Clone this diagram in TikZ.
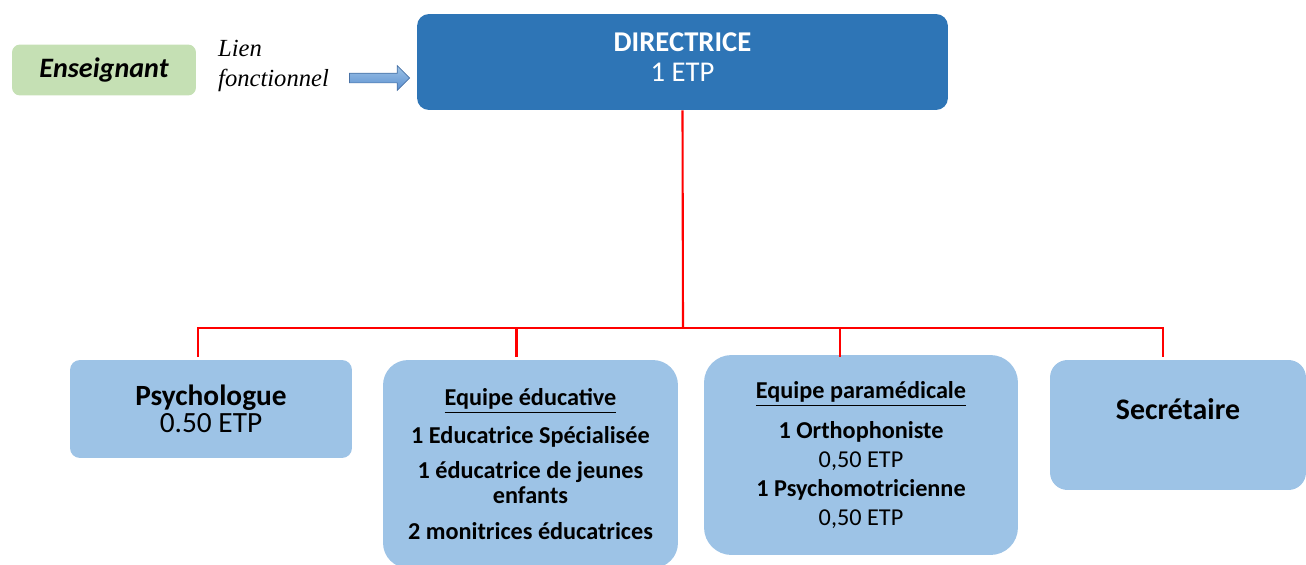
\documentclass[tikz,border=0pt]{standalone}
\usepackage{fontspec}
\setmainfont{Carlito}
\newfontfamily\lienfont{Liberation Serif}
\usepackage{tikz}
\usetikzlibrary{shapes.arrows, positioning, calc}
\definecolor{dirblue}{HTML}{2E75B6}
\definecolor{staffblue}{HTML}{9DC3E6}
\definecolor{teachgreen}{HTML}{C5E0B4}
\definecolor{arrowblue}{HTML}{5B8FD0}

\begin{document}
\begin{tikzpicture}[x=0.02cm, y=-0.02cm,
    director/.style={rectangle, rounded corners=0.24cm, fill=dirblue, text=white, minimum width=10.62cm, minimum height=1.92cm, align=center, font=\fontsize{16.3}{17}\selectfont},
    staff/.style={rectangle, rounded corners=0.2cm, fill=staffblue, align=center, font=\fontsize{13.8}{14.5}\selectfont},
    teacher/.style={rectangle, rounded corners=0.16cm, fill=teachgreen, minimum width=3.68cm, minimum height=1.02cm, font=\fontsize{16}{17}\selectfont\bfseries\itshape},
    link/.style={red, line width=1.2pt}
]
    \useasboundingbox (0,0) rectangle (1306,565);

    \node[teacher] (teach) at (104,70) {Enseignant};
    \node[align=left, anchor=west, font=\fontsize{14}{17}\selectfont\lienfont\itshape] (lientext) at (212,66) {Lien\\fonctionnel};
    \node[single arrow, draw=arrowblue!80!black, line width=0.4pt, top color=staffblue, bottom color=arrowblue, inner sep=0.09cm, minimum height=1.2cm, single arrow head extend=0.15cm, anchor=tip] (lienarrow) at (410,78) {};

    \node[director, text depth=0.2cm] (dir) at (682.5,62) {\textbf{DIRECTRICE}\\1 ETP};

    \node[staff, minimum width=5.64cm, minimum height=1.96cm, font=\fontsize{16.7}{15.5}\selectfont] (psy) at (211,409) {\textbf{Psychologue}\\0.50 ETP};
    \node[staff, rounded corners=0.5cm, minimum width=5.9cm, minimum height=4.16cm, font=\fontsize{13.8}{14.2}\selectfont\bfseries] (educ) at (530.5,464) {\underline{Equipe éducative}\\[7pt] 1 Educatrice Spécialisée\\[6pt] 1 éducatrice de jeunes\\ enfants\\[6pt] 2 monitrices éducatrices};
    \node[staff, rounded corners=0.55cm, minimum width=6.28cm, minimum height=4cm, font=\fontsize{13.8}{16.5}\selectfont] (para) at (861,455) {\textbf{\underline{Equipe paramédicale}}\\[6pt] \textbf{1 Orthophoniste}\\0,50 ETP\\ \textbf{1 Psychomotricienne}\\0,50 ETP};
    \node[staff, rounded corners=0.35cm, minimum width=5.12cm, minimum height=2.6cm, text depth=0.65cm, font=\fontsize{17}{17}\selectfont\bfseries] (sec) at (1178,425) {Secrétaire};

    % organigramme
    \coordinate (hub) at (683,328);
    \draw[link] (dir.south) -- (hub);
    \draw[link] (hub) -| ([xshift=-0.26cm, yshift=0.06cm]psy.north);
    \draw[link] (hub) -| ([xshift=-0.28cm, yshift=0.06cm]educ.north);
    \draw[link] (hub) -| ([xshift=-0.42cm, yshift=-0.04cm]para.north);
    \draw[link] (hub) -| ([xshift=-0.3cm, yshift=0.06cm]sec.north);
\end{tikzpicture}
\end{document}
